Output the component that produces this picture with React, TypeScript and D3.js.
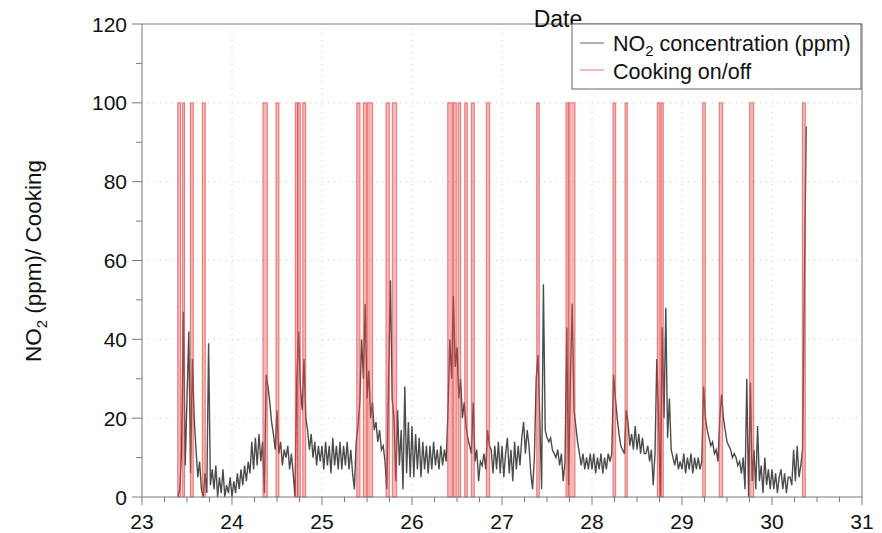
import React from "react";
import * as d3 from "d3";

// NO2 samples every 0.02 day starting at day 23.40
const no2Start = 23.4;
const no2Step = 0.02;
const no2 = [
  0, 2, 12, 47, 8, 25, 42, 6, 35, 20,
  12, 5, 9, 2, 0, 6, 1, 39, 3, 7,
  2, 8, 0, 5, 1, 7, 0, 3, 1, 5,
  0, 4, 1, 6, 2, 7, 3, 8, 4, 9,
  6, 14, 7, 15, 8, 16, 9, 14, 1, 31,
  28, 24, 19, 16, 12, 22, 11, 14, 8, 12,
  10, 13, 7, 11, 6, 0, 30, 42, 28, 22,
  35, 20, 17, 12, 16, 10, 14, 8, 13, 9,
  13, 7, 14, 8, 13, 6, 15, 8, 13, 7,
  14, 7, 13, 8, 14, 7, 12, 6, 2, 14,
  18, 24, 40, 30, 49, 25, 32, 20, 24, 17,
  19, 14, 17, 12, 13, 9, 2, 30, 55, 25,
  20, 4, 22, 8, 17, 2, 28, 6, 19, 5,
  18, 5, 16, 7, 15, 5, 14, 7, 13, 6,
  13, 7, 14, 8, 12, 7, 13, 8, 12, 9,
  22, 40, 30, 51, 33, 38, 25, 30, 20, 24,
  18, 15, 13, 11, 24, 9, 12, 4, 9, 8,
  11, 7, 17, 13, 12, 6, 13, 7, 14, 6,
  13, 5, 11, 15, 6, 12, 4, 14, 7, 13,
  8, 15, 19, 11, 17, 13, 6, 2, 10, 30,
  36, 20, 2, 54, 17, 15, 14, 15, 12, 11,
  10, 12, 8, 11, 4, 9, 43, 3, 30, 49,
  22, 18, 14, 11, 8, 11, 7, 10, 7, 11,
  7, 11, 6, 10, 7, 11, 6, 10, 7, 11,
  9, 11, 31, 25, 20, 16, 13, 12, 11, 22,
  19, 13, 16, 12, 18, 12, 16, 11, 15, 11,
  11, 13, 9, 12, 3, 11, 35, 20, 0, 43,
  20, 48, 15, 25, 12, 10, 8, 11, 7, 9,
  7, 11, 6, 10, 7, 11, 6, 10, 7, 10,
  7, 9, 28, 20, 17, 15, 13, 14, 11, 12,
  9, 20, 26, 20, 17, 14, 13, 12, 10, 11,
  10, 8, 9, 6, 10, 2, 30, 0, 29, 4,
  12, 2, 18, 4, 8, 1, 10, 3, 7, 2,
  7, 2, 6, 1, 5, 7, 2, 6, 1, 5,
  5, 3, 12, 4, 13, 5, 8, 12, 55, 94,
];

// cooking on/off intervals (day)
const cookOn = [
  23.397, 23.452, 23.537, 23.67, 24.344, 24.489, 24.703, 24.733, 24.786,
  25.386, 25.459, 25.508, 25.711, 25.781, 26.397, 26.459, 26.511, 26.586,
  26.659, 26.826, 27.386, 27.711, 27.744, 28.233, 28.367, 28.726, 28.767,
  29.23, 29.414, 29.752, 30.337,
];
const cookOff = [
  23.43, 23.473, 23.57, 23.703, 24.392, 24.522, 24.728, 24.759, 24.819,
  25.422, 25.497, 25.563, 25.748, 25.83, 26.448, 26.492, 26.541, 26.614,
  26.692, 26.863, 27.414, 27.737, 27.811, 28.263, 28.392, 28.756, 28.792,
  29.259, 29.452, 29.797, 30.37,
];
const cookLevel = 100;

const xTicks = [23, 24, 25, 26, 27, 28, 29, 30, 31];
const yTicks = [0, 20, 40, 60, 80, 100, 120];

const font = "'Liberation Sans', Arial, Helvetica, sans-serif";

export default function App() {
  const width = 882;
  const height = 533;
  const x = d3.scaleLinear().domain([23, 31]).range([142, 862]);
  const y = d3.scaleLinear().domain([0, 120]).range([497, 24]);
  const [x0, x1] = x.range();
  const [y0, y1] = y.range();

  const pts = no2.map((v, i) => [no2Start + i * no2Step, v] as [number, number]);
  const line = d3.line<[number, number]>().x(d => x(d[0])).y(d => y(d[1]));

  const xMinor = d3.range(23, 31.001, 0.25).filter(d => Math.abs(d - Math.round(d)) > 0.01);
  const yMinor = d3.range(10, 120, 20);
  const axisCol = "#7a7a7a";

  return (
    <svg width={width} height={height} style={{ position: "absolute", left: 0, top: 0, background: "#fff" }}
      fontFamily={font}>
      {/* grid */}
      {yTicks.filter(t => t > 0 && t < 120).map(t => (
        <line key={"gy" + t} x1={x0} x2={x1} y1={y(t)} y2={y(t)} stroke="#c8c8c8" strokeDasharray="1,5" />
      ))}
      {xTicks.filter(t => t > 23 && t < 31).map(t => (
        <line key={"gx" + t} x1={x(t)} x2={x(t)} y1={y0} y2={y1} stroke="#c8c8c8" strokeDasharray="1,5" />
      ))}

      {/* NO2 */}
      <path d={line(pts) || ""} fill="none" stroke="#000" strokeOpacity={0.7} strokeWidth={1.4}
        strokeLinejoin="miter" />

      {/* cooking */}
      {cookOn.map((s, i) => (
        <rect key={"c" + i} x={x(s)} y={y(cookLevel)} width={x(cookOff[i]) - x(s)} height={y(0) - y(cookLevel)}
          fill="rgb(235,80,80)" fillOpacity={0.42} stroke="rgb(225,60,60)" strokeOpacity={0.65} strokeWidth={1} />
      ))}

      {/* frame */}
      <rect x={x0} y={y1} width={x1 - x0} height={y0 - y1} fill="none" stroke={axisCol} strokeWidth={1} />

      {/* y ticks */}
      {yTicks.map(t => (
        <g key={"yt" + t}>
          <line x1={x0 - 10} x2={x0} y1={y(t)} y2={y(t)} stroke={axisCol} />
          <text x={x0 - 15} y={y(t)} dy="0.36em" textAnchor="end" fontSize={21} fill="#111">{t}</text>
        </g>
      ))}
      {yMinor.map(t => (
        <line key={"ym" + t} x1={x0 - 6} x2={x0} y1={y(t)} y2={y(t)} stroke={axisCol} />
      ))}

      {/* x ticks */}
      {xTicks.map(t => (
        <g key={"xt" + t}>
          <line x1={x(t)} x2={x(t)} y1={y0} y2={y0 + 8} stroke={axisCol} />
          <text x={x(t)} y={y0 + 32} textAnchor="middle" fontSize={21} fill="#111">{t}</text>
        </g>
      ))}
      {xMinor.map(t => (
        <line key={"xm" + t} x1={x(t)} x2={x(t)} y1={y0} y2={y0 + 5} stroke={axisCol} />
      ))}

      {/* axis labels */}
      <text transform="translate(41,261) rotate(-90)" textAnchor="middle" fontSize={22.5} fill="#111">
        NO<tspan dy={6} fontSize={15}>2</tspan><tspan dy={-6}> (ppm)/ Cooking</tspan>
      </text>
      <text x={558} y={27} textAnchor="middle" fontSize={23} fill="#111">Date</text>

      {/* legend */}
      <rect x={572} y={24} width={289} height={65} fill="#fff" stroke="#666" />
      <line x1={580} x2={604} y1={43} y2={43} stroke="#000" strokeOpacity={0.6} />
      <text x={613} y={51} fontSize={21.5} fill="#111">
        NO<tspan dy={5} fontSize={15}>2</tspan><tspan dy={-5}> concentration (ppm)</tspan>
      </text>
      <line x1={580} x2={604} y1={70} y2={70} stroke="rgb(225,60,60)" strokeOpacity={0.7} />
      <text x={613} y={79} fontSize={21.5} fill="#111">Cooking on/off</text>
    </svg>
  );
}
